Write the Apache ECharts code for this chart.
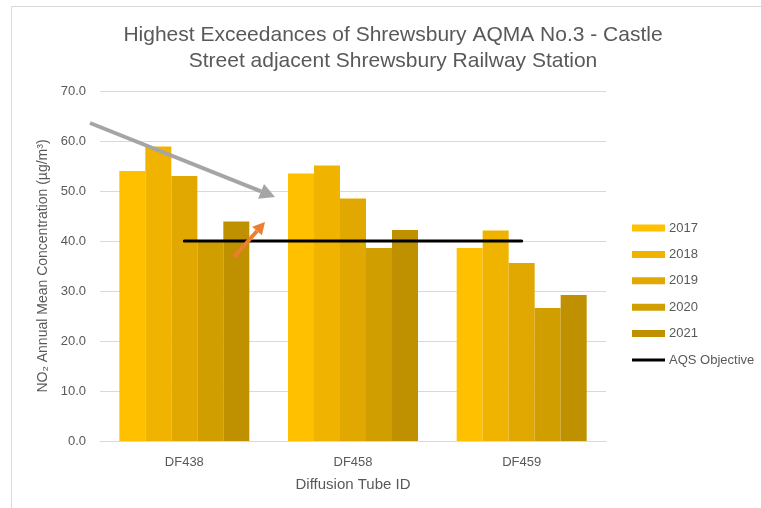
<!DOCTYPE html>
<html>
<head>
<meta charset="utf-8">
<script src="https://cdn.jsdelivr.net/npm/echarts@6/dist/echarts.min.js"></script>
<style>
html,body{margin:0;padding:0;background:#fff;}
#chart{width:761px;height:508px;}
</style>
</head>
<body>
<div id="chart"></div>
<script>
const categories = ['DF438', 'DF458', 'DF459'];
const years = ['2017', '2018', '2019', '2020', '2021'];
const v2017 = [54.0, 53.5, 38.6];
const v2018 = [58.9, 55.1, 42.1];
const v2019 = [53.0, 48.5, 35.6];
const v2020 = [40.0, 38.6, 26.6];
const v2021 = [43.9, 42.2, 29.2];
const aqsObjective = [40, 40, 40];
const yTicks = [0, 10, 20, 30, 40, 50, 60, 70];

const barValues = [v2017, v2018, v2019, v2020, v2021];
const barColors = ['#FFC000', '#F0B400', '#E0A800', '#D19E00', '#BF9000'];
const FONT = '"Liberation Sans", Arial, sans-serif';
const TXT = '#595959';

const chart = echarts.init(document.getElementById('chart'), null, {renderer: 'canvas'});

const series = years.map((y, i) => ({
  name: y,
  type: 'bar',
  data: barValues[i],
  barWidth: 26,
  barGap: '0%',
  itemStyle: {color: barColors[i]},
  emphasis: {disabled: true}
}));
series.push({
  name: 'AQS Objective',
  type: 'line',
  data: aqsObjective,
  symbol: 'none',
  z: 5,
  lineStyle: {color: '#000', width: 3, cap: 'round'},
  itemStyle: {color: '#000'},
  emphasis: {disabled: true}
});

function arrow(x1, y1, x2, y2, headLen, headHalf, color, width) {
  const dx = x2 - x1, dy = y2 - y1;
  const L = Math.sqrt(dx * dx + dy * dy);
  const ux = dx / L, uy = dy / L;
  const bx = x2 - headLen * ux, by = y2 - headLen * uy;
  const nx = -uy, ny = ux;
  return [
    {type: 'line', shape: {x1: x1, y1: y1, x2: bx, y2: by},
     style: {stroke: color, lineWidth: width}, z: 100},
    {type: 'polygon', shape: {points: [[x2, y2], [bx + headHalf * nx, by + headHalf * ny], [bx - headHalf * nx, by - headHalf * ny]]},
     style: {fill: color}, z: 100}
  ];
}

const lineIcon = 'path://M0,0 L33,0 L33,0.01 L0,0.01 Z M0,2 L33,2 L33,5 L0,5 Z M0,6.99 L33,6.99 L33,7 L0,7 Z';

const option = {
  animation: false,
  backgroundColor: '#fff',
  textStyle: {fontFamily: FONT},
  title: {
    text: 'Highest Exceedances of Shrewsbury AQMA No.3 - Castle\nStreet adjacent Shrewsbury Railway Station',
    left: 388,
    top: 17,
    textAlign: 'center',
    textStyle: {fontFamily: FONT, fontSize: 21, fontWeight: 'normal', color: TXT, lineHeight: 26}
  },
  grid: {left: 100, right: 155, top: 91, bottom: 67, containLabel: false},
  legend: {
    orient: 'vertical',
    left: 627,
    top: 215,
    itemWidth: 33,
    itemHeight: 7,
    itemGap: 10.4,
    data: years.map(y => ({name: y, icon: 'rect'})).concat([{name: 'AQS Objective', icon: lineIcon, itemStyle: {color: '#000', borderWidth: 0}}]),
    textStyle: {fontFamily: FONT, fontSize: 13, color: TXT, lineHeight: 16, padding: [0, 0, 0, -1]}
  },
  xAxis: {
    type: 'category',
    data: categories,
    name: 'Diffusion Tube ID',
    nameLocation: 'middle',
    nameGap: 36,
    nameTextStyle: {fontFamily: FONT, fontSize: 15, color: TXT},
    axisLine: {lineStyle: {color: '#d9d9d9', width: 1}},
    axisTick: {show: false},
    axisLabel: {fontFamily: FONT, fontSize: 13, color: TXT, margin: 15}
  },
  yAxis: {
    type: 'value',
    min: yTicks[0],
    max: yTicks[yTicks.length - 1],
    interval: 10,
    name: 'NO₂ Annual Mean Concentration (µg/m³)',
    nameLocation: 'middle',
    nameGap: 40,
    nameTextStyle: {fontFamily: FONT, fontSize: 14, color: TXT},
    axisLine: {show: false},
    axisTick: {show: false},
    splitLine: {lineStyle: {color: '#d9d9d9', width: 1}},
    axisLabel: {fontFamily: FONT, fontSize: 13, color: TXT, margin: 14, formatter: v => v.toFixed(1)}
  },
  series: series,
  graphic: [
    {type: 'rect', shape: {x: 11.5, y: 6.5, width: 900, height: 700}, style: {fill: null, stroke: '#d9d9d9', lineWidth: 1}, z: -10, silent: true}
  ].concat(arrow(90, 123, 275, 197, 15, 8, '#A5A5A5', 4))
   .concat(arrow(234, 257, 265, 222, 12, 6.5, '#ED7D31', 4))
};

chart.setOption(option);
</script>
</body>
</html>
